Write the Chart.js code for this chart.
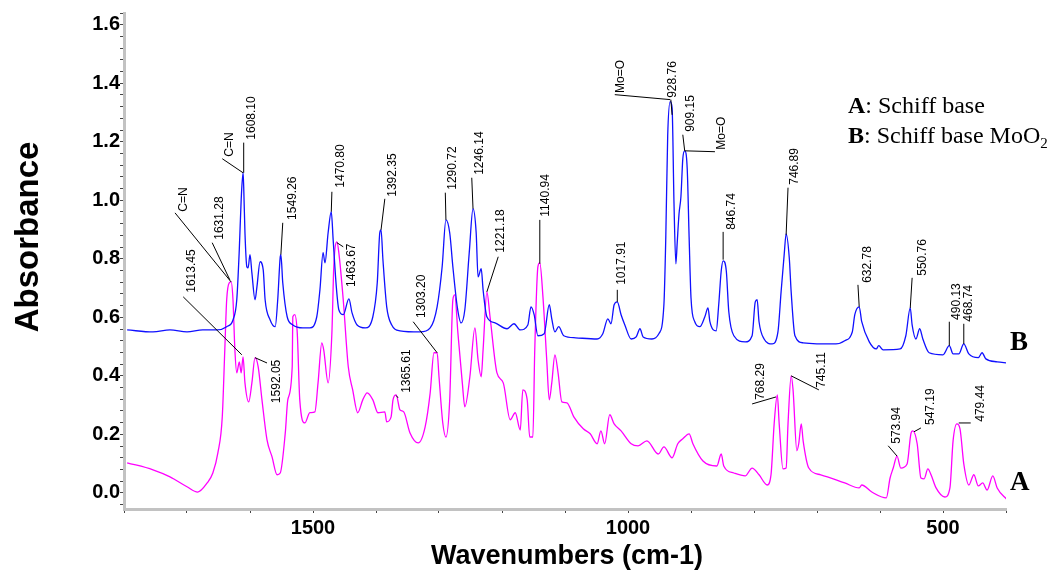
<!DOCTYPE html>
<html>
<head>
<meta charset="utf-8">
<script src="https://cdn.jsdelivr.net/npm/chart.js@4.4.1/dist/chart.umd.min.js"></script>
<style>
  html, body { margin: 0; padding: 0; background: #fff; }
  #wrap { width: 1048px; height: 574px; }
</style>
</head>
<body>
<div id="wrap"><canvas id="ir"></canvas></div>
<script>
// ==================== DATA ====================
// B: Schiff base MoO2 (blue)
const waveB = [1795,1754,1727,1700,1675,1652,1637,1627,1621,1617,
  1614,1611,1610,1608,1605,1603,1600,1597,1592,1589,
  1584,1579,1576,1568,1560,1556,1552,1551,1548,1541,
  1532,1516,1505,1494,1489,1484,1481,1476,1471,1468,
  1463,1459,1452,1443,1438,1430,1417,1405,1398,1394,
  1392,1389,1383,1375,1362,1330,1314,1303,1295,1289,
  1283,1278,1271,1265,1259,1252,1246,1241,1238,1233,
  1230,1224,1211,1192,1181,1171,1159,1154,1149,1143,
  1133,1125,1121,1116,1110,1102,1083,1049,1040,1032,
  1027,1022,1017,1011,1005,995,987,981,976,962,
  951,943,940,937,933,930,927,924,922,919,
  916,913,910,906,903,900,894,886,878,873,
  870,860,856,852,849,844,840,832,814,803,
  798,795,792,784,771,762,757,752,749,744,
  741,735,722,670,656,644,640,633,629,617,
  606,602,595,568,559,552,549,543,537,532,
  522,500,490,484,475,467,459,444,438,432,
  414,398];
const absB = [0.557,0.550,0.557,0.550,0.557,0.557,0.568,0.591,0.660,0.831,
  1.002,1.094,1.046,0.889,0.773,0.769,0.814,0.752,0.660,0.704,
  0.790,0.762,0.660,0.591,0.568,0.660,0.807,0.814,0.718,0.602,
  0.574,0.564,0.564,0.602,0.694,0.821,0.786,0.889,0.961,0.865,
  0.704,0.626,0.609,0.663,0.615,0.574,0.564,0.602,0.718,0.889,
  0.899,0.797,0.636,0.574,0.554,0.550,0.564,0.636,0.773,0.933,
  0.889,0.773,0.636,0.581,0.626,0.821,0.971,0.889,0.738,0.766,
  0.694,0.602,0.581,0.561,0.578,0.557,0.574,0.636,0.609,0.537,
  0.544,0.643,0.595,0.550,0.568,0.537,0.530,0.526,0.544,0.595,
  0.578,0.643,0.653,0.609,0.574,0.526,0.533,0.561,0.533,0.526,
  0.544,0.643,0.875,1.220,1.337,1.316,0.991,0.783,0.851,0.954,
  1.012,1.142,1.169,1.108,0.875,0.667,0.585,0.568,0.602,0.632,
  0.585,0.554,0.643,0.759,0.793,0.759,0.619,0.537,0.516,0.537,
  0.653,0.660,0.585,0.526,0.509,0.550,0.687,0.817,0.885,0.803,
  0.687,0.537,0.513,0.509,0.520,0.550,0.609,0.636,0.585,0.516,
  0.492,0.503,0.489,0.492,0.537,0.632,0.574,0.526,0.561,0.526,
  0.479,0.472,0.503,0.475,0.475,0.509,0.475,0.462,0.479,0.458,
  0.448,0.444];

// A: Schiff base (magenta)
const waveA = [1795,1754,1727,1700,1683,1668,1659,1651,1644,1640,
  1637,1633,1630,1627,1624,1621,1617,1614,1611,1608,
  1602,1597,1592,1587,1581,1573,1565,1557,1552,1544,
  1540,1533,1532,1529,1525,1521,1513,1505,1497,1492,
  1486,1483,1476,1470,1467,1462,1459,1452,1444,1437,
  1429,1421,1414,1405,1397,1386,1383,1376,1373,1368,
  1362,1356,1346,1333,1322,1314,1308,1303,1300,1294,
  1289,1283,1278,1275,1270,1263,1259,1251,1243,1238,
  1233,1230,1224,1219,1208,1198,1187,1179,1171,1167,
  1160,1156,1151,1148,1143,1140,1135,1129,1125,1121,
  1116,1111,1105,1097,1086,1071,1060,1049,1043,1037,
  1029,1022,1011,995,984,970,952,943,930,921,
  913,903,897,881,859,852,848,832,814,803,
  792,779,773,768,763,760,754,749,746,741,
  738,732,729,725,722,713,694,656,633,629,
  613,590,584,579,573,567,557,551,548,541,
  535,530,524,519,511,497,489,484,478,473,
  467,459,451,444,437,430,421,414,398];
const absA = [0.103,0.079,0.055,0.021,0.003,0.034,0.068,0.137,0.260,0.489,
  0.660,0.718,0.721,0.660,0.489,0.410,0.448,0.410,0.465,0.376,
  0.311,0.376,0.462,0.431,0.318,0.181,0.123,0.062,0.068,0.205,
  0.318,0.431,0.602,0.609,0.547,0.318,0.239,0.274,0.277,0.376,
  0.513,0.489,0.376,0.547,0.773,0.858,0.821,0.660,0.431,0.352,
  0.274,0.318,0.342,0.318,0.274,0.277,0.243,0.260,0.318,0.335,
  0.284,0.277,0.205,0.171,0.226,0.342,0.479,0.479,0.397,0.239,
  0.191,0.318,0.660,0.677,0.547,0.376,0.294,0.397,0.564,0.455,
  0.397,0.489,0.687,0.602,0.410,0.376,0.250,0.274,0.215,0.352,
  0.318,0.191,0.191,0.489,0.773,0.786,0.670,0.455,0.318,0.376,
  0.472,0.410,0.311,0.308,0.260,0.219,0.202,0.168,0.212,0.168,
  0.267,0.236,0.212,0.168,0.161,0.178,0.133,0.157,0.120,0.168,
  0.185,0.202,0.168,0.109,0.092,0.133,0.092,0.068,0.058,0.085,
  0.062,0.027,0.062,0.236,0.335,0.236,0.082,0.085,0.236,0.400,
  0.352,0.144,0.168,0.236,0.178,0.085,0.062,0.034,0.017,0.027,
  0.003,-0.017,0.051,0.085,0.126,0.085,0.099,0.202,0.212,0.168,
  0.051,0.048,0.082,0.062,0.017,-0.014,0.017,0.178,0.236,0.219,
  0.099,0.027,0.062,0.024,0.034,0.010,0.058,0.017,-0.024];

// labelled ticks
const xLabelTicks = [1500, 1000, 500];
const yLabelTicks = [0.0, 0.2, 0.4, 0.6, 0.8, 1.0, 1.2, 1.4, 1.6];

// peak notes: text, peak end (wn, abs), leader end (wn, abs), text anchor (wn, abs), text ends at anchor
const peakNotes = [
  ["C=N",     1630, 0.721, 1719, 0.957, 1706, 0.961, false],
  ["1631.28", 1632, 0.728, 1660, 0.855, 1648, 0.865, false],
  ["1613.45", 1613, 0.472, 1706, 0.670, 1692, 0.684, false],
  ["C=N",     1611, 1.094, 1644, 1.142, 1633, 1.149, false],
  ["1608.10", 1610, 1.094, 1610, 1.197, 1597, 1.207, false],
  ["1549.26", 1551, 0.814, 1548, 0.923, 1533, 0.933, false],
  ["1470.80", 1471, 0.961, 1470, 1.029, 1456, 1.043, false],
  ["1463.67", 1462, 0.855, 1452, 0.841, 1438, 0.704, false],
  ["1392.35", 1392, 0.899, 1386, 1.005, 1373, 1.012, false],
  ["1303.20", 1303, 0.479, 1341, 0.585, 1327, 0.598, false],
  ["1365.61", 1368, 0.333, 1365, 0.325, 1352, 0.342, false],
  ["1592.05", 1592, 0.462, 1573, 0.444, 1557, 0.455, true],
  ["1290.72", 1289, 0.933, 1290, 1.026, 1278, 1.036, false],
  ["1246.14", 1246, 0.971, 1248, 1.077, 1235, 1.087, false],
  ["1221.18", 1224, 0.687, 1206, 0.807, 1202, 0.821, false],
  ["1140.94", 1140, 0.783, 1140, 0.933, 1130, 0.944, false],
  ["1017.91", 1017, 0.653, 1017, 0.694, 1010, 0.711, false],
  ["Mo=O",     933, 1.344, 1021, 1.361, 1011, 1.367, false],
  ["928.76",   930, 1.292,  932, 1.344,  929, 1.350, false],
  ["909.15",   910, 1.169,  913, 1.224,  900, 1.234, false],
  ["Mo=O",     910, 1.169,  862, 1.166,  851, 1.173, false],
  ["846.74",   849, 0.797,  849, 0.892,  835, 0.899, false],
  ["746.89",   749, 0.882,  746, 1.043,  735, 1.053, false],
  ["632.78",   633, 0.636,  635, 0.711,  619, 0.718, false],
  ["550.76",   552, 0.632,  549, 0.735,  533, 0.742, false],
  ["490.13",   490, 0.503,  490, 0.585,  479, 0.591, false],
  ["468.74",   467, 0.509,  467, 0.578,  459, 0.585, false],
  ["768.29",   765, 0.328,  803, 0.304,  790, 0.318, false],
  ["745.11",   741, 0.400,  697, 0.352,  692, 0.359, false],
  ["573.94",   573, 0.126,  587, 0.161,  573, 0.168, false],
  ["547.19",   546, 0.209,  535, 0.222,  519, 0.232, false],
  ["479.44",   475, 0.239,  456, 0.239,  440, 0.243, false],
];

// curve tags at the right edge: letter, absorbance of baseline
const curveTags = [["B", 0.489], ["A", 0.010]];

const SANS = '"Liberation Sans", Arial, sans-serif';
const SERIF = '"Liberation Serif", "Times New Roman", serif';

function pts(xs, ys) {
  return xs.map((x, i) => ({ x: x, y: ys[i] }));
}

function isLabelled(v, list) {
  return list.some(t => Math.abs(t - v) < 1e-6);
}

// ==================== DECORATION PLUGIN ====================
const decorations = {
  id: "decorations",
  afterDatasetsDraw(chart) {
    const ctx = chart.ctx;
    const xs = chart.scales.x, ys = chart.scales.y;
    const area = chart.chartArea;

    // peak notes
    ctx.save();
    ctx.strokeStyle = "#000";
    ctx.lineWidth = 1;
    ctx.fillStyle = "#000";
    ctx.font = "12px " + SANS;
    for (const n of peakNotes) {
      const [text, x1, y1, x2, y2, tx, ty, atEnd] = n;
      ctx.beginPath();
      ctx.moveTo(xs.getPixelForValue(x1), ys.getPixelForValue(y1));
      ctx.lineTo(xs.getPixelForValue(x2), ys.getPixelForValue(y2));
      ctx.stroke();
      ctx.save();
      ctx.translate(xs.getPixelForValue(tx), ys.getPixelForValue(ty));
      ctx.rotate(-Math.PI / 2);
      ctx.textAlign = atEnd ? "right" : "left";
      ctx.textBaseline = "middle";
      ctx.fillText(text, 0, 0);
      ctx.restore();
    }
    ctx.restore();

    // legend text
    ctx.save();
    ctx.fillStyle = "#000";
    ctx.textBaseline = "alphabetic";
    ctx.textAlign = "left";
    const lx = area.right - 158;
    let x = lx;
    ctx.font = "bold 24px " + SERIF;
    ctx.fillText("A", x, 113);
    x += ctx.measureText("A").width;
    ctx.font = "24px " + SERIF;
    ctx.fillText(": Schiff base", x, 113);
    x = lx;
    ctx.font = "bold 24px " + SERIF;
    ctx.fillText("B", x, 143);
    x += ctx.measureText("B").width;
    ctx.font = "24px " + SERIF;
    ctx.fillText(": Schiff base MoO", x, 143);
    x += ctx.measureText(": Schiff base MoO").width;
    ctx.font = "15px " + SERIF;
    ctx.fillText("2", x, 148);

    // curve tags
    ctx.font = "bold 27px " + SERIF;
    for (const [t, v] of curveTags) {
      ctx.fillText(t, area.right + 4, ys.getPixelForValue(v));
    }
    ctx.restore();

    // axis titles
    ctx.save();
    ctx.fillStyle = "#000";
    ctx.textAlign = "center";
    ctx.textBaseline = "middle";
    ctx.font = "bold 27px " + SANS;
    ctx.fillText("Wavenumbers (cm-1)", (area.left + area.right) / 2 + 2, 557);
    ctx.translate(29, (area.top + area.bottom) / 2 - 24);
    ctx.rotate(-Math.PI / 2);
    ctx.font = "bold 33px " + SANS;
    ctx.fillText("Absorbance", 0, 0);
    ctx.restore();
  }
};

// ==================== CHART ====================
const chart = new Chart(document.getElementById("ir"), {
  type: "line",
  data: {
    datasets: [
      {
        label: "B",
        data: pts(waveB, absB),
        borderColor: "#1010ff",
        borderWidth: 1.3,
        pointRadius: 0,
        cubicInterpolationMode: "monotone",
        fill: false,
      },
      {
        label: "A",
        data: pts(waveA, absA),
        borderColor: "#ff00ff",
        borderWidth: 1.3,
        pointRadius: 0,
        cubicInterpolationMode: "monotone",
        fill: false,
      },
    ]
  },
  options: {
    responsive: true,
    maintainAspectRatio: false,
    animation: false,
    layout: { padding: { top: 13, right: 42, left: 0, bottom: 0 } },
    plugins: {
      legend: { display: false },
      tooltip: { enabled: false },
    },
    scales: {
      x: {
        type: "linear",
        reverse: true,
        min: 400,
        max: 1800,
        afterFit: (s) => { s.height = 65; },
        border: { color: "#c2c2c2", width: 3 },
        grid: { drawOnChartArea: false, tickLength: 4, color: "#444" },
        ticks: {
          stepSize: 100,
          autoSkip: false,
          maxRotation: 0,
          padding: 3,
          color: "#000",
          font: { family: SANS, size: 20, weight: "bold" },
          callback: (v) => isLabelled(v, xLabelTicks) ? String(v) : "",
        },
      },
      y: {
        min: -0.055,
        max: 1.64,
        afterFit: (s) => { s.width = 124; },
        border: { color: "#c2c2c2", width: 3 },
        grid: { drawOnChartArea: false, tickLength: 4, color: "#444" },
        ticks: {
          stepSize: 0.04,
          includeBounds: false,
          autoSkip: false,
          padding: 0,
          color: "#000",
          font: { family: SANS, size: 20, weight: "bold" },
          callback: (v) => isLabelled(v, yLabelTicks) ? v.toFixed(1) : "",
        },
      },
    },
  },
  plugins: [decorations],
});
</script>
</body>
</html>
